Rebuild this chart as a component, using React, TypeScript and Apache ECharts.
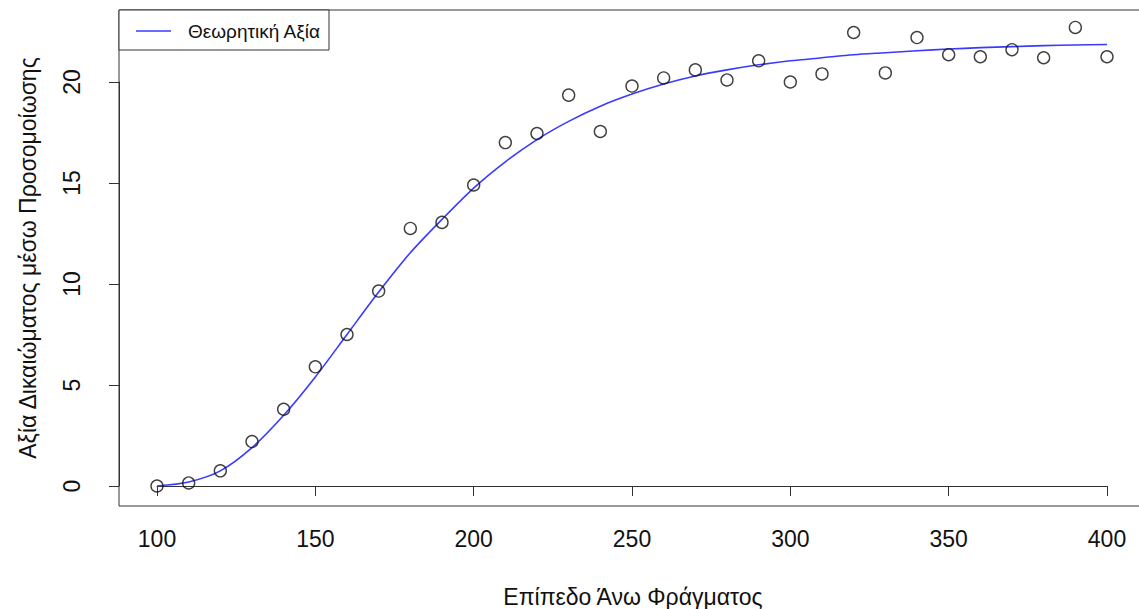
import React, { useEffect, useRef } from "react";
import * as echarts from "echarts";

const xValues = [100, 110, 120, 130, 140, 150, 160, 170, 180, 190, 200, 210, 220, 230, 240, 250, 260, 270, 280, 290, 300, 310, 320, 330, 340, 350, 360, 370, 380, 390, 400];
const simulatedValues = [0.0, 0.15, 0.75, 2.2, 3.8, 5.9, 7.5, 9.65, 12.75, 13.05, 14.9, 17.0, 17.45, 19.35, 17.55, 19.8, 20.2, 20.6, 20.1, 21.05, 20.0, 20.4, 22.45, 20.45, 22.2, 21.35, 21.25, 21.6, 21.2, 22.7, 21.25];
const theoreticalValues = [0.0, 0.2, 0.75, 1.9, 3.5, 5.4, 7.5, 9.6, 11.55, 13.2, 14.75, 16.05, 17.15, 18.05, 18.8, 19.4, 19.9, 20.3, 20.6, 20.85, 21.05, 21.2, 21.35, 21.45, 21.55, 21.63, 21.7, 21.75, 21.8, 21.83, 21.86];
const legendLabel = "Θεωρητική Αξία";
const xTitle = "Επίπεδο Άνω Φράγματος";
const yTitle = "Αξία Δικαιώματος μέσω Προσομοίωσης";

const FONT = "'Liberation Sans', Arial, Helvetica, sans-serif";

export default function App() {
  const ref = useRef<HTMLDivElement>(null);
  useEffect(() => {
    if (!ref.current) return;
    const chart = echarts.init(ref.current, null, { renderer: "svg" });
    chart.setOption({
      animation: false,
      backgroundColor: "#ffffff",
      grid: { left: 157, right: 32, top: 82, bottom: 123, containLabel: false },
      xAxis: {
        type: "value",
        min: 100,
        max: 400,
        interval: 50,
        offset: 20,
        axisLine: { show: true, lineStyle: { color: "#333", width: 1 } },
        axisTick: { show: true, length: 10, lineStyle: { color: "#333", width: 1 } },
        axisLabel: { fontSize: 23, color: "#111", fontFamily: FONT, margin: 21 },
        splitLine: { show: false },
      },
      yAxis: {
        type: "value",
        min: 0,
        max: 20,
        interval: 5,
        offset: 38,
        axisLine: { show: true, lineStyle: { color: "#333", width: 1 } },
        axisTick: { show: true, length: 10, lineStyle: { color: "#333", width: 1 } },
        axisLabel: { fontSize: 23, color: "#111", fontFamily: FONT, margin: 36, rotate: 90 },
        splitLine: { show: false },
      },
      series: [
        {
          type: "line",
          data: xValues.map((x, i) => [x, theoreticalValues[i]]),
          smooth: 0.3,
          showSymbol: false,
          clip: false,
          lineStyle: { color: "#3a3aff", width: 1.6 },
          z: 2,
        },
        {
          type: "scatter",
          data: xValues.map((x, i) => [x, simulatedValues[i]]),
          symbol: "circle",
          symbolSize: 12,
          clip: false,
          itemStyle: { color: "rgba(255,255,255,0)", borderColor: "#111", borderWidth: 1.4 },
          z: 3,
        },
      ],
      graphic: [
        {
          type: "rect",
          shape: { x: 119, y: 10, width: 1026, height: 496 },
          style: { fill: "none", stroke: "#333", lineWidth: 1 },
          z: 10,
        },
        {
          type: "rect",
          shape: { x: 119, y: 10, width: 210, height: 40 },
          style: { fill: "#fff", stroke: "#333", lineWidth: 1 },
          z: 11,
        },
        {
          type: "line",
          shape: { x1: 136, y1: 31, x2: 171, y2: 31 },
          style: { stroke: "#3a3aff", lineWidth: 1.6 },
          z: 12,
        },
        {
          type: "text",
          x: 188,
          y: 31,
          style: { text: legendLabel, fontSize: 19, fontFamily: FONT, fill: "#111", verticalAlign: "middle", align: "left" },
          z: 12,
        },
        {
          type: "text",
          x: 633,
          y: 597,
          style: { text: xTitle, fontSize: 23, fontFamily: FONT, fill: "#111", verticalAlign: "middle", align: "center" },
          z: 12,
        },
        {
          type: "text",
          x: 28,
          y: 258,
          rotation: Math.PI / 2,
          style: { text: yTitle, fontSize: 23, fontFamily: FONT, fill: "#111", verticalAlign: "middle", align: "center" },
          z: 12,
        },
      ],
    });
    return () => chart.dispose();
  }, []);
  return (
    <div
      ref={ref}
      style={{ position: "fixed", left: 0, top: 0, width: 1139, height: 609, background: "#fff" }}
    />
  );
}
